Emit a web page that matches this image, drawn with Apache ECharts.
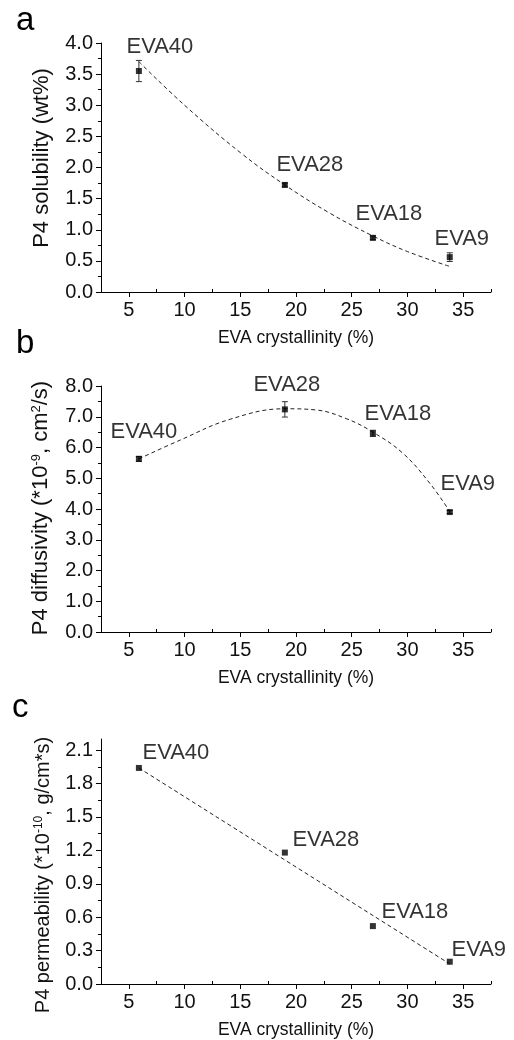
<!DOCTYPE html>
<html>
<head>
<meta charset="utf-8">
<script src="https://cdn.jsdelivr.net/npm/echarts@6/dist/echarts.min.js"></script>
<style>
html,body{margin:0;padding:0;background:#fff;}
#chart{width:514px;height:1040px;}
</style>
</head>
<body>
<div id="chart"></div>
<script>
// samples and measured values
var samples = ["EVA40", "EVA28", "EVA18", "EVA9"];
var crystallinity = [5.9, 19.0, 26.9, 33.8];
var solubility = [3.55, 1.72, 0.87, 0.56];
var solubilityErr = [0.17, 0.03, 0.03, 0.07];
var diffusivity = [5.63, 7.24, 6.46, 3.90];
var diffusivityErr = [0.08, 0.25, 0.10, 0.05];
var permeability = [1.94, 1.18, 0.52, 0.20];

// dashed fit lines
var solFitX = [5.9, 10, 15, 19, 23, 26.9, 30, 33.8];
var solFitY = [3.70, 3.00, 2.24, 1.72, 1.27, 0.90, 0.65, 0.41];
var difFitX = [5.9, 9.6, 14.1, 19.0, 21.8, 24.5, 26.9, 29.6, 32.0, 33.8];
var difFitY = [5.63, 6.24, 6.92, 7.26, 7.22, 6.94, 6.50, 5.81, 4.84, 3.92];
var perFitX = [5.9, 33.8];
var perFitY = [1.94, 0.18];

// tick values
var xTicks = [5, 10, 15, 20, 25, 30, 35];
var xMinorTicks = [2.5, 7.5, 12.5, 17.5, 22.5, 27.5, 32.5, 37.5];
var perTicks = [0, 0.3, 0.6, 0.9, 1.2, 1.5, 1.8, 2.1];

// y axis titles
var yTitles = [
	"P4 solubility (wt%)",
	"P4 diffusivity (*10{sup|-9}, cm{sup|2}/s)",
	"P4 permeability (*10{sup|-10}, g/cm*s)"
];

// label offsets (px) for the sample names in each panel
var solLabelOffset = [[21, -24], [25, -20], [16, -24], [12, -18]];
var difLabelOffset = [[5, -27], [2, -24], [25, -19], [18, -28]];
var perLabelOffset = [[37, -15], [41, -13], [42, -14], [29, -12]];

var FONT = "Liberation Sans";
var myChart = echarts.init(document.getElementById("chart"));

function zip(xs, ys){
	var out = [];
	for(var i = 0; i < xs.length; i++) out.push([xs[i], ys[i]]);
	return out;
}

//主x轴 + 次刻度叠加轴
function makeXAxes(gi){
	return [{
		type: "value", gridIndex: gi, min: 2.5, max: 37.5,
		name: "EVA crystallinity (%)", nameLocation: "middle", nameGap: 37,
		nameTextStyle: {fontFamily: FONT, fontSize: 17.5, color: "#111"},
		axisLine: {show: true, onZero: false, lineStyle: {color: "#000", width: 1}},
		axisTick: {show: true, length: 5, customValues: xTicks, lineStyle: {color: "#000"}},
		axisLabel: {customValues: xTicks, margin: 8, fontFamily: FONT, fontSize: 20, color: "#111"},
		splitLine: {show: false}
	}, {
		type: "value", gridIndex: gi, min: 2.5, max: 37.5,
		axisLine: {show: false},
		axisTick: {show: true, length: 3, customValues: xMinorTicks, lineStyle: {color: "#000"}},
		axisLabel: {show: false},
		splitLine: {show: false}
	}];
}

function makeYAxis(gi, min, max, interval, custom){
	var ax = {
		type: "value", gridIndex: gi, min: min, max: max, interval: interval,
		axisLine: {show: true, onZero: false, lineStyle: {color: "#000", width: 1}},
		axisTick: {show: true, length: 5, lineStyle: {color: "#000"}},
		minorTick: {show: true, splitNumber: 2, length: 3, lineStyle: {color: "#000"}},
		axisLabel: {margin: 8, fontFamily: FONT, fontSize: 20, color: "#111",
			formatter: function(v){ return v.toFixed(1); }},
		splitLine: {show: false}
	};
	if(custom){
		ax.axisTick.customValues = custom;
		ax.axisLabel.customValues = custom;
	}
	return ax;
}

//竖排的y轴标题
function yTitle(text, cx, cy, size){
	return {
		type: "text", x: cx, y: cy, rotation: Math.PI / 2,
		style: {text: text, fontFamily: FONT, fontSize: size, fill: "#111",
			align: "center", verticalAlign: "middle",
			rich: {sup: {fontFamily: FONT, fontSize: Math.round(size * 0.6), verticalAlign: "top", fill: "#111"}}}
	};
}

function pointSeries(gi, ys, offsets){
	var data = [];
	for(var i = 0; i < ys.length; i++){
		data.push({value: [crystallinity[i], ys[i]],
			label: {offset: offsets[i]}});
	}
	return {
		type: "scatter", xAxisIndex: gi * 2, yAxisIndex: gi,
		symbol: "rect", symbolSize: 6, itemStyle: {color: "#000"},
		data: data, z: 5,
		label: {show: true, position: "inside", align: "center", verticalAlign: "middle",
			fontFamily: FONT, fontSize: 22, color: "#000",
			formatter: function(p){ return samples[p.dataIndex]; }}
	};
}

function fitSeries(gi, xs, ys){
	return {
		type: "line", xAxisIndex: gi * 2, yAxisIndex: gi,
		data: zip(xs, ys), smooth: 0.4, symbol: "none", silent: true,
		lineStyle: {color: "#222", width: 1, type: [4, 3]}, z: 3
	};
}

//误差棒
function errorSeries(gi, ys, es){
	var data = [];
	for(var i = 0; i < ys.length; i++) data.push([crystallinity[i], ys[i] - es[i], ys[i] + es[i]]);
	return {
		type: "custom", xAxisIndex: gi * 2, yAxisIndex: gi, data: data, z: 4, silent: true,
		renderItem: function(params, api){
			var lo = api.coord([api.value(0), api.value(1)]);
			var hi = api.coord([api.value(0), api.value(2)]);
			var w = 3;
			var st = {stroke: "#333", lineWidth: 1};
			return {type: "group", children: [
				{type: "line", shape: {x1: lo[0], y1: lo[1], x2: hi[0], y2: hi[1]}, style: st},
				{type: "line", shape: {x1: lo[0] - w, y1: lo[1], x2: lo[0] + w, y2: lo[1]}, style: st},
				{type: "line", shape: {x1: hi[0] - w, y1: hi[1], x2: hi[0] + w, y2: hi[1]}, style: st}
			]};
		}
	};
}

var option = {
	backgroundColor: "#fff",
	animation: false,
	grid: [
		{left: 101, top: 43, width: 390, height: 249},
		{left: 101, top: 386, width: 390, height: 246},
		{left: 101, top: 739, width: 390, height: 248}
	],
	xAxis: [].concat(makeXAxes(0), makeXAxes(1), makeXAxes(2)),
	yAxis: [
		makeYAxis(0, 0, 4, 0.5),
		makeYAxis(1, 0, 8, 1),
		makeYAxis(2, 0, 2.2, 0.3, perTicks)
	],
	graphic: [
		{type: "text", left: 16, top: 4, style: {text: "a", fontFamily: FONT, fontSize: 33, fill: "#000"}},
		{type: "text", left: 16, top: 327, style: {text: "b", fontFamily: FONT, fontSize: 33, fill: "#000"}},
		{type: "text", left: 12, top: 691, style: {text: "c", fontFamily: FONT, fontSize: 33, fill: "#000"}},
		yTitle(yTitles[0], 42, 158, 22),
		yTitle(yTitles[1], 41, 508, 22),
		yTitle(yTitles[2], 43, 875, 20)
	],
	series: [
		fitSeries(0, solFitX, solFitY),
		errorSeries(0, solubility, solubilityErr),
		pointSeries(0, solubility, solLabelOffset),
		fitSeries(1, difFitX, difFitY),
		errorSeries(1, diffusivity, diffusivityErr),
		pointSeries(1, diffusivity, difLabelOffset),
		fitSeries(2, perFitX, perFitY),
		pointSeries(2, permeability, perLabelOffset)
	]
};
myChart.setOption(option);
</script>
</body>
</html>
